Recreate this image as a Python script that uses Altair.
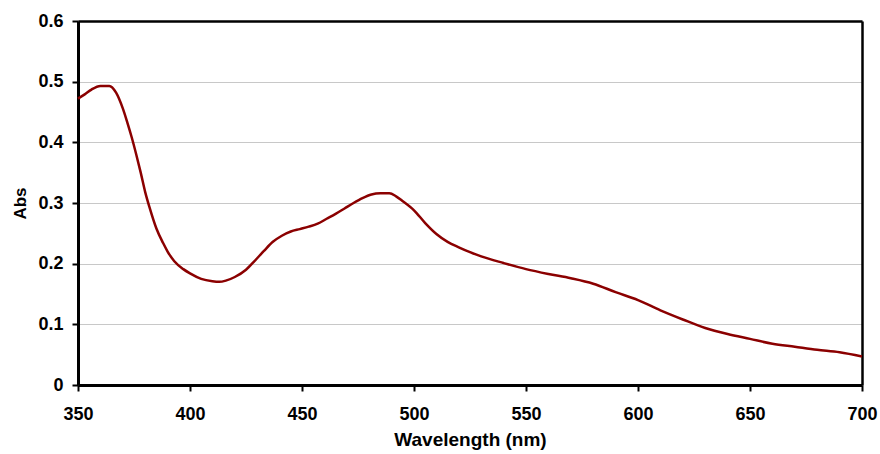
import altair as alt
import pandas as pd

wavelength = [350, 353, 356, 360, 364, 367, 370, 372, 374, 376, 378, 380, 382, 385, 388, 390, 393, 397,
              400, 405, 410, 413, 416, 420, 425, 429, 433, 437, 441, 445, 449, 453, 457, 461, 465,
              469, 473, 477, 481, 485, 489, 492, 495, 500, 505, 510, 515, 520, 525, 530, 540, 550, 560,
              570, 580, 590, 600, 610, 620, 630, 640, 650, 660, 670, 680, 690, 700]
absorbance = [0.472, 0.479, 0.487, 0.493, 0.493, 0.482, 0.456, 0.433, 0.408, 0.380, 0.350, 0.318, 0.292,
              0.258, 0.234, 0.220, 0.204, 0.191, 0.184, 0.175, 0.171, 0.170, 0.172, 0.178, 0.190, 0.205,
              0.221, 0.236, 0.246, 0.253, 0.257, 0.261, 0.266, 0.274, 0.282, 0.291, 0.300, 0.308,
              0.314, 0.316, 0.316, 0.311, 0.303, 0.288, 0.267, 0.249, 0.236, 0.227, 0.219, 0.212, 0.201,
              0.191, 0.183, 0.176, 0.167, 0.153, 0.140, 0.123, 0.108, 0.094, 0.084, 0.076, 0.068, 0.063,
              0.058, 0.054, 0.047]

x_ticks = [350, 400, 450, 500, 550, 600, 650, 700]
y_ticks = [0, 0.1, 0.2, 0.3, 0.4, 0.5, 0.6]

df = pd.DataFrame({"wl": wavelength, "abs": absorbance})

FONT = "Liberation Sans"
xscale = alt.Scale(domain=[350, 700], nice=False, zero=False)
yscale = alt.Scale(domain=[0, 0.6], nice=False)

line = alt.Chart(df).mark_line(color="#8B0000", strokeWidth=2.5, interpolate="monotone").encode(
    x=alt.X("wl:Q", scale=xscale,
            axis=alt.Axis(values=x_ticks, title="Wavelength (nm)", grid=False,
                          labelFont=FONT, labelFontSize=18, labelFontWeight="bold", labelColor="black",
                          titleFont=FONT, titleFontSize=19, titleFontWeight="bold", titleColor="black",
                          domainColor="black", domainWidth=3, tickColor="black", tickWidth=2,
                          tickSize=6, labelPadding=14, titlePadding=7, labelFlush=False)),
    y=alt.Y("abs:Q", scale=yscale,
            axis=alt.Axis(values=y_ticks, title="Abs", grid=True, gridColor="#c8c8c8", gridWidth=1,
                          labelExpr="datum.value == 0 ? '0' : format(datum.value, '.1f')",
                          labelFont=FONT, labelFontSize=18, labelFontWeight="bold", labelColor="black",
                          titleFont=FONT, titleFontSize=17, titleFontWeight="bold", titleColor="black",
                          domainColor="black", domainWidth=3, tickColor="black", tickWidth=2,
                          tickSize=6, labelPadding=9, titlePadding=8, labelFlush=False)),
)

frame = alt.Chart(df).mark_line(opacity=0).encode(
    x=alt.X("wl:Q", scale=xscale,
            axis=alt.Axis(orient="top", labels=False, ticks=False, title=None, grid=False,
                          domainColor="black", domainWidth=2.5)),
    y=alt.Y("abs:Q", scale=yscale,
            axis=alt.Axis(orient="right", labels=False, ticks=False, title=None, grid=False,
                          domainColor="black", domainWidth=2.5)),
)

chart = alt.layer(frame, line).resolve_axis(x="independent", y="independent").properties(
    width=784, height=364,
    autosize=alt.AutoSizeParams(type="none"),
    padding={"left": 78, "top": 21, "right": 18, "bottom": 69},
).configure_view(stroke=None).configure(background="white")

chart.save("out.html", embed_options={"renderer": "svg", "actions": False})
